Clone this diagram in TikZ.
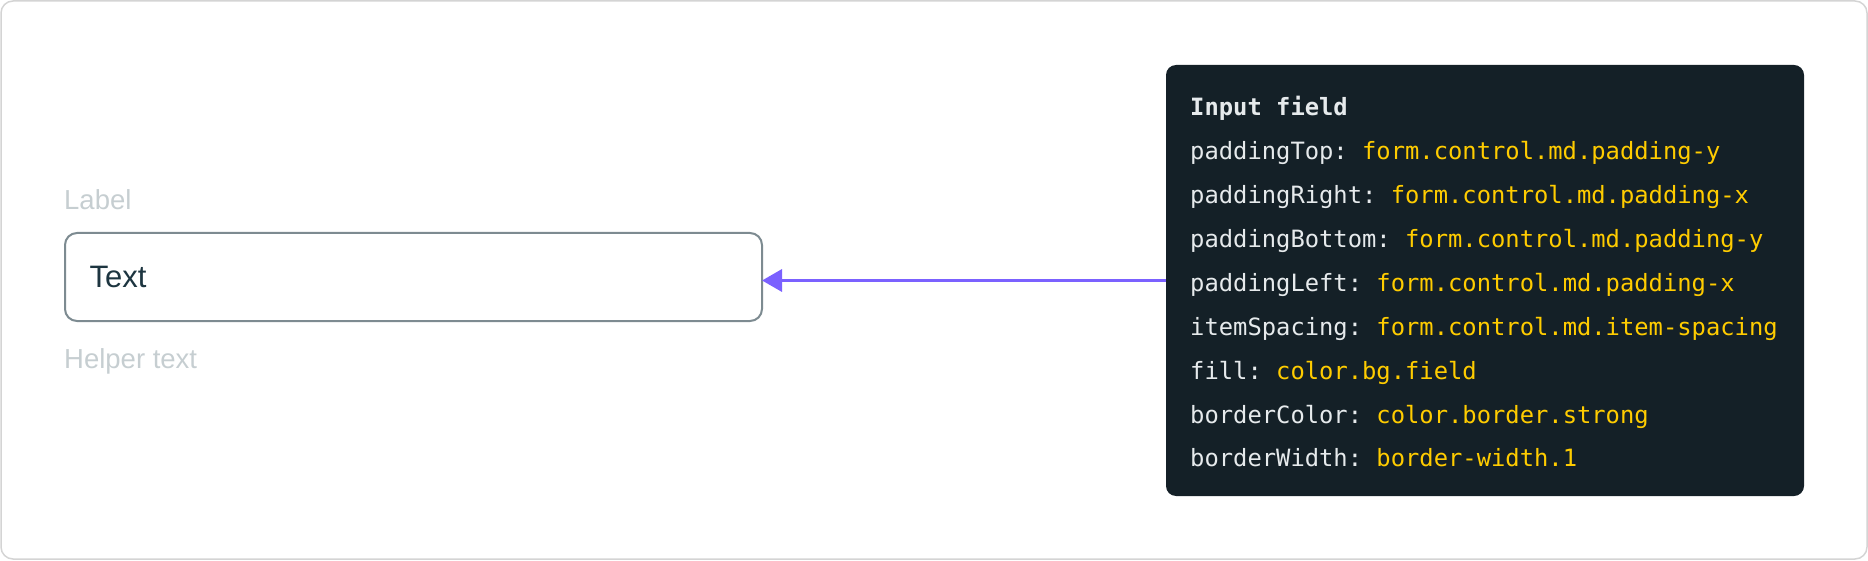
\documentclass[tikz,border=0pt]{standalone}
\usepackage{fontspec}
\setmainfont{Liberation Sans}
\newfontfamily\monofont[WordSpace={1,0,0}]{DejaVu Sans Mono}
\usetikzlibrary{arrows.meta}
\definecolor{framegray}{HTML}{D4D4D4}
\definecolor{hintgray}{HTML}{C6CED1}
\definecolor{textdark}{HTML}{1D3540}
\definecolor{fieldborder}{HTML}{7D8B91}
\definecolor{arrowpurple}{HTML}{7B61FF}
\definecolor{specbg}{HTML}{142027}
\definecolor{specwhite}{HTML}{E6EAEC}
\definecolor{specyellow}{HTML}{FFCC00}
\tikzset{
  hint/.style={anchor=base west, inner sep=0pt, text=hintgray, font=\fontsize{27.5}{30}\selectfont},
  fieldtext/.style={anchor=base west, inner sep=0pt, text=textdark, font=\fontsize{31}{34}\selectfont},
  specline/.style={anchor=base west, inner sep=0pt, text=specwhite, font=\frenchspacing\monofont\fontsize{23.8}{26}\selectfont},
  fieldbox/.style={draw=fieldborder, line width=2pt, fill=white, rounded corners=12pt, inner sep=0pt, outer sep=0pt},
  specbox/.style={fill=specbg, rounded corners=10pt, inner sep=0pt, outer sep=0pt},
  connector/.style={draw=arrowpurple, line width=3.5pt, -{Triangle[length=20pt,width=22pt]}},
}
\newcommand{\val}[1]{\textcolor{specyellow}{#1}}
\frenchspacing
\begin{document}
\begin{tikzpicture}[x=1pt,y=-1pt]
\useasboundingbox (0,0) rectangle (1868,561);
\draw[framegray, line width=1.5pt, rounded corners=12pt] (1,1) rectangle (1867,559);
% input field
\node[hint] (label) at (64,210) {Label};
\node[fieldbox, minimum width=697pt, minimum height=88pt] (field) at (413.5,277) {};
\node[fieldtext] (fieldtxt) at (89.5,287.7) {Text};
\node[hint] (helper) at (64,368) {Helper text};
% spec box
\node[specbox, minimum width=638pt, minimum height=431pt] (spec) at (1485,280.5) {};
\node[specline] (l0) at (1190,115.7) {\bfseries Input field};
\node[specline] (l1) at (1190,159.6) {paddingTop: \val{form.control.md.padding-y}};
\node[specline] (l2) at (1190,203.5) {paddingRight: \val{form.control.md.padding-x}};
\node[specline] (l3) at (1190,247.4) {paddingBottom: \val{form.control.md.padding-y}};
\node[specline] (l4) at (1190,291.3) {paddingLeft: \val{form.control.md.padding-x}};
\node[specline] (l5) at (1190,335.2) {itemSpacing: \val{form.control.md.item-spacing}};
\node[specline] (l6) at (1190,379.1) {fill: \val{color.bg.field}};
\node[specline] (l7) at (1190,423.0) {borderColor: \val{color.border.strong}};
\node[specline] (l8) at (1190,466.9) {borderWidth: \val{border-width.1}};
% connector
\draw[connector] (spec.west) -- (spec.west -| field.east);
\end{tikzpicture}
\end{document}
